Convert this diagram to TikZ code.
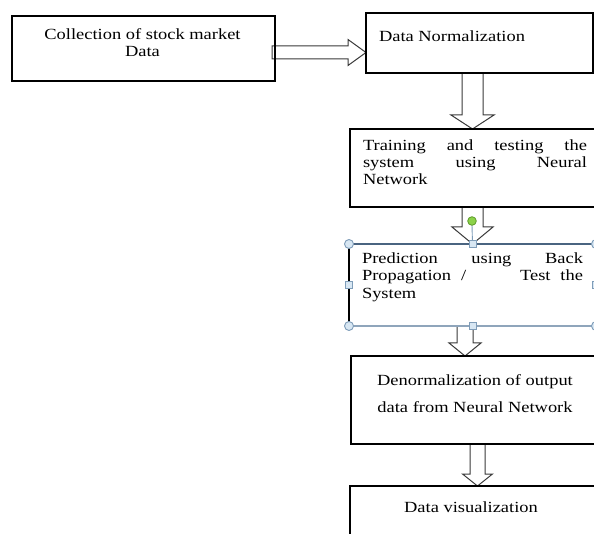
\documentclass[tikz,border=0pt]{standalone}
\usepackage{fontspec}
\setmainfont[FakeStretch=1.19]{Liberation Serif}
\usetikzlibrary{calc}
\definecolor{selblue}{HTML}{4A6480}
\definecolor{sellight}{HTML}{8FA5BB}
\definecolor{hfill}{HTML}{D8E7F3}
\definecolor{hdraw}{HTML}{7F9DB9}
\definecolor{arrowc}{HTML}{3A3A3A}
\definecolor{gfill}{HTML}{8CD24A}
\definecolor{gdraw}{HTML}{5E9A2A}
% vertical block arrow: #1 start, #2 tip, #3 shaft half width, #4 head half width, #5 head length
\newcommand\myvarr[5]{\draw[blockarrow] let \p1=(#1), \p2=(#2) in
  (\x1-#3pt,\y1) -- (\x1-#3pt,\y2+#5pt) -- (\x1-#4pt,\y2+#5pt) -- (\x1,\y2)
  -- (\x1+#4pt,\y2+#5pt) -- (\x1+#3pt,\y2+#5pt) -- (\x1+#3pt,\y1);}
% horizontal block arrow
\newcommand\myharr[5]{\draw[blockarrow] let \p1=(#1), \p2=(#2) in
  (\x1,\y1+#3pt) -- (\x2-#5pt,\y1+#3pt) -- (\x2-#5pt,\y1+#4pt) -- (\x2,\y1)
  -- (\x2-#5pt,\y1-#4pt) -- (\x2-#5pt,\y1-#3pt) -- (\x1,\y1-#3pt) -- cycle;}
\newcommand\jline[2]{\makebox[#1pt][s]{#2}}
\begin{document}
\begin{tikzpicture}[x=1pt,y=-1pt,
  plainbox/.style={rectangle,inner sep=0pt,outer sep=0pt,anchor=north west},
  blockarrow/.style={draw=arrowc,fill=white,line width=1pt,line join=miter},
  txt/.style={inner sep=0pt,outer sep=0pt,font=\fontsize{15.5}{17}\selectfont,text=black},
  hcirc/.style={draw=hdraw,fill=hfill,line width=0.9pt},
  hsq/.style={draw=hdraw,fill=hfill,line width=0.9pt},
]
\useasboundingbox (0,0) rectangle (594,534);
\clip (0,0) rectangle (594,534);
\fill[white] (0,0) rectangle (594,534);

% box geometry (invisible nodes carry the names)
\node[plainbox,minimum width=263pt,minimum height=65pt] (b1) at (12,16) {};
\node[plainbox,minimum width=227pt,minimum height=60pt] (b2) at (366,13) {};
\node[plainbox,minimum width=250pt,minimum height=78pt] (b3) at (350,129) {};
\node[plainbox,minimum width=247pt,minimum height=82pt] (b4) at (349,244) {};
\node[plainbox,minimum width=250pt,minimum height=88pt] (b5) at (351,356) {};
\node[plainbox,minimum width=250pt,minimum height=70pt] (b6) at (350,486) {};

% arrow axes
\coordinate (ax1) at (472.5,0);
\coordinate (ax2) at (472.5,0);
\coordinate (ax3) at (465,0);
\coordinate (ax4) at (477.5,0);
\coordinate (hs) at (272,52.5);

% connectors (block arrows)
\myharr{hs}{b2.west |- hs}{6.5}{13}{18}
\myvarr{b2.south -| ax1}{b3.north -| ax1}{10.5}{21.5}{14}
\myvarr{b3.south -| ax2}{b4.north -| ax2}{10.5}{20.5}{17}
\myvarr{b4.south -| ax3}{b5.north -| ax3}{8}{16}{13}
\myvarr{b5.south -| ax4}{b6.north -| ax4}{7.5}{15}{12}

% box outlines
\draw[line width=1.2pt] (b1.north west) rectangle (b1.south east);
\draw[line width=1.2pt] (b2.north west) rectangle (b2.south east);
\draw[line width=1.2pt] (b3.north west) rectangle (b3.south east);
\draw[line width=1.2pt] (b5.north west) rectangle (b5.south east);
\draw[line width=1.2pt] (b6.north west) rectangle (b6.south east);
% selected box 4
\draw[line width=1.4pt,black] (b4.north west) -- (b4.south west);
\draw[line width=1.2pt,selblue] (b4.north west) -- (b4.north east);
\draw[line width=1.1pt,sellight] (b4.south west) -- (b4.south east);
\draw[line width=1.1pt,sellight] (b4.north east) -- (b4.south east);

% texts
\node[txt,anchor=north,align=center] (t1) at (142.5,28.4) {Collection of stock market\\Data};
\node[txt,anchor=base west] (t2) at (379,42) {Data Normalization};
\node[txt,anchor=north west,align=left] (t3) at (363,139.4)
  {\jline{224}{Training and testing the}\\\jline{224}{system using Neural}\\Network};
\node[txt,anchor=north west,align=left,font=\fontsize{15.5}{17.5}\selectfont] (t4) at (362,252.4)
  {\jline{221}{Prediction using Back}\\\jline{221}{Propagation / \hspace{2.2em} Test the}\\System};
\node[txt,anchor=north,align=center] (t5) at (475,374.4)
  {Denormalization of output\\[10pt]data from Neural Network};
\node[txt,anchor=base] (t6) at (471,512) {Data visualization};

% selection handles on box 4
\draw[hdraw,line width=0.9pt] (472,225) -- (b4.north -| ax2);
\draw[draw=gdraw,fill=gfill,line width=0.8pt] (472,221) circle (4.3);
\foreach \a in {north west,north east,south west,south east}
  \draw[hcirc] (b4.\a) circle (4.5);
\draw[hsq] ($(b4.north -| ax2)+(-3.5,-3.5)$) rectangle ($(b4.north -| ax2)+(3.5,3.5)$);
\draw[hsq] ($(b4.south -| ax2)+(-3.5,-3.5)$) rectangle ($(b4.south -| ax2)+(3.5,3.5)$);
\foreach \a in {west,east}
  \draw[hsq] ($(b4.\a)+(-3.5,-3.5)$) rectangle ($(b4.\a)+(3.5,3.5)$);
\end{tikzpicture}
\end{document}
